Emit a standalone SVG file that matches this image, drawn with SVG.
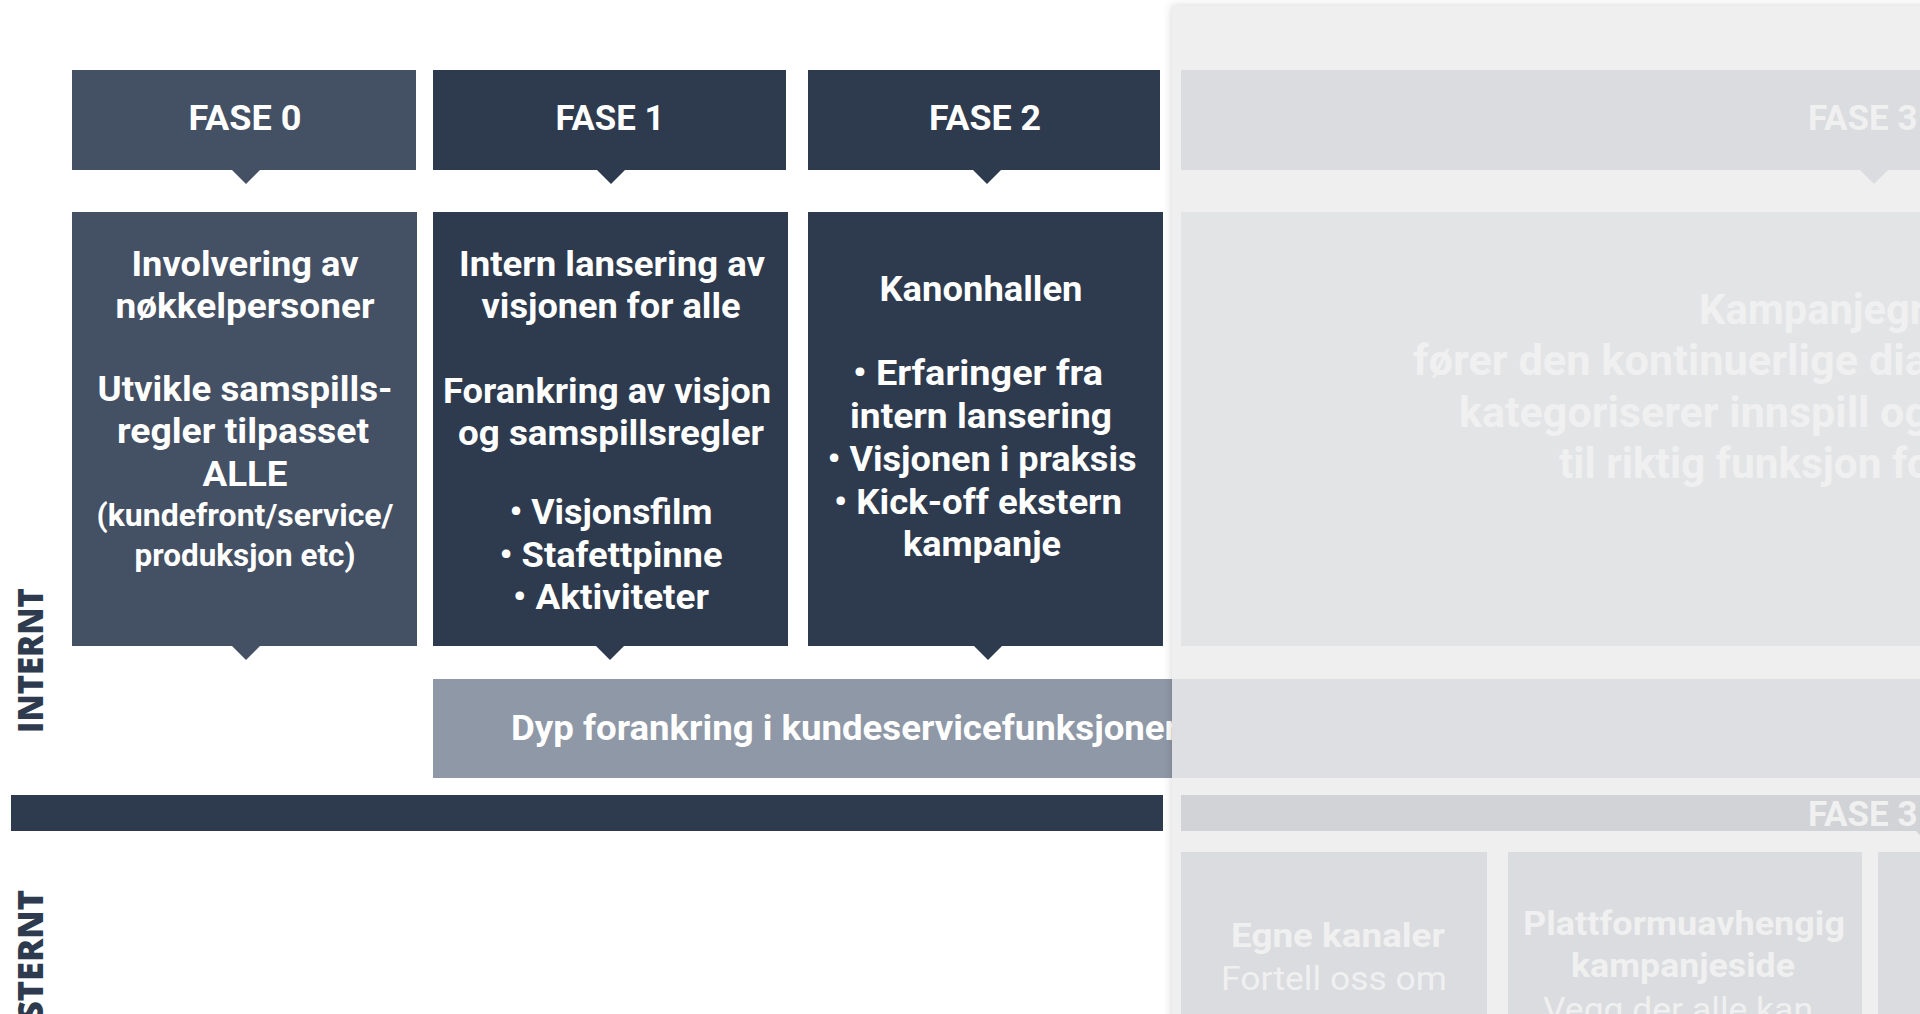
<svg xmlns="http://www.w3.org/2000/svg" width="1920" height="1014" viewBox="0 0 1920 1014">
<defs>
<style>
.t{font-family:Roboto,"Liberation Sans",sans-serif;font-weight:700;font-size:35px;fill:#ffffff;text-anchor:middle}
.s{font-size:32px}
.side{font-family:"Open Sans","Liberation Sans",Arial,sans-serif;font-weight:800;font-size:36px;fill:#2e3b4e}
.ov{font-family:Roboto,"Liberation Sans",sans-serif;font-weight:700;fill:#f0f0f1}
.reg{font-weight:400}
.f0{fill:#445063}
.f1{fill:#2e3b4e}
.dyp{fill:#8f98a6}
</style>
<filter id="sh" x="-5%" y="-5%" width="110%" height="110%">
<feDropShadow dx="0" dy="0" stdDeviation="4" flood-color="#000" flood-opacity="0.18"/>
</filter>
</defs>
<rect width="1920" height="1014" fill="#ffffff"/>

<g id="label-internt">
<text class="side" transform="translate(43,733) rotate(-90)" textLength="145" lengthAdjust="spacingAndGlyphs">INTERNT</text>
</g>
<g id="label-eksternt">
<text class="side" transform="translate(43,1021) rotate(-90)" textLength="131" lengthAdjust="spacingAndGlyphs">STERNT</text>
</g>

<g id="fase0-header">
<rect class="f0" x="72" y="70" width="344" height="100"/>
<text class="t" x="245" y="130" textLength="113" lengthAdjust="spacingAndGlyphs">FASE 0</text>
</g>
<g id="fase1-header">
<rect class="f1" x="433" y="70" width="353" height="100"/>
<text class="t" x="610" y="130" textLength="109" lengthAdjust="spacingAndGlyphs">FASE 1</text>
</g>
<g id="fase2-header">
<rect class="f1" x="808" y="70" width="352" height="100"/>
<text class="t" x="985" y="130" textLength="112" lengthAdjust="spacingAndGlyphs">FASE 2</text>
</g>

<g id="fase0-content">
<rect class="f0" x="72" y="212" width="345" height="434"/>
<text class="t" x="245" y="276" textLength="227" lengthAdjust="spacingAndGlyphs">Involvering av</text>
<text class="t" x="245" y="318" textLength="259" lengthAdjust="spacingAndGlyphs">nøkkelpersoner</text>
<text class="t" x="245" y="401" textLength="295" lengthAdjust="spacingAndGlyphs">Utvikle samspills-</text>
<text class="t" x="243" y="443" textLength="252" lengthAdjust="spacingAndGlyphs">regler tilpasset</text>
<text class="t" x="245" y="486" textLength="85" lengthAdjust="spacingAndGlyphs">ALLE</text>
<text class="t s" x="245" y="526" textLength="297" lengthAdjust="spacingAndGlyphs">(kundefront/service/</text>
<text class="t s" x="245" y="566" textLength="221" lengthAdjust="spacingAndGlyphs">produksjon etc)</text>
</g>

<g id="fase1-content">
<rect class="f1" x="433" y="212" width="355" height="434"/>
<text class="t" x="612" y="276" textLength="306" lengthAdjust="spacingAndGlyphs">Intern lansering av</text>
<text class="t" x="611" y="318" textLength="259" lengthAdjust="spacingAndGlyphs">visjonen for alle</text>
<text class="t" x="607" y="403" textLength="328" lengthAdjust="spacingAndGlyphs">Forankring av visjon</text>
<text class="t" x="611" y="445" textLength="306" lengthAdjust="spacingAndGlyphs">og samspillsregler</text>
<text class="t" x="611" y="524" textLength="203" lengthAdjust="spacingAndGlyphs">• Visjonsfilm</text>
<text class="t" x="611" y="567" textLength="223" lengthAdjust="spacingAndGlyphs">• Stafettpinne</text>
<text class="t" x="611" y="609" textLength="196" lengthAdjust="spacingAndGlyphs">• Aktiviteter</text>
</g>

<g id="fase2-content">
<rect class="f1" x="808" y="212" width="355" height="434"/>
<text class="t" x="981" y="301" textLength="203" lengthAdjust="spacingAndGlyphs">Kanonhallen</text>
<text class="t" x="978" y="385" textLength="250" lengthAdjust="spacingAndGlyphs">• Erfaringer fra</text>
<text class="t" x="981" y="428" textLength="262" lengthAdjust="spacingAndGlyphs">intern lansering</text>
<text class="t" x="982" y="471" textLength="309" lengthAdjust="spacingAndGlyphs">• Visjonen i praksis</text>
<text class="t" x="978" y="514" textLength="288" lengthAdjust="spacingAndGlyphs">• Kick-off ekstern</text>
<text class="t" x="982" y="556" textLength="158" lengthAdjust="spacingAndGlyphs">kampanje</text>
</g>

<g id="dyp-forankring">
<rect class="dyp" x="433" y="679" width="760" height="99"/>
<text class="t" x="511" y="740" style="text-anchor:start" textLength="667" lengthAdjust="spacingAndGlyphs">Dyp forankring i kundeservicefunksjoner</text>
</g>

<g id="divider-bar">
<rect class="f1" x="11" y="795" width="1152" height="36"/>
</g>

<g id="connectors">
<polygon class="f0" points="231,169 261,169 246,184"/>
<polygon class="f1" points="596,169 626,169 611,184"/>
<polygon class="f1" points="972,169 1002,169 987,184"/>
<polygon class="f0" points="231,645 261,645 246,660"/>
<polygon class="f1" points="595,645 625,645 610,660"/>
<polygon class="f1" points="973,645 1003,645 988,660"/>
</g>

<g id="overlay-panel">
<rect x="1172" y="6" width="760" height="1020" fill="#efefef" filter="url(#sh)"/>
<g id="fase3-header">
<rect x="1181" y="70" width="750" height="100" fill="#dbdcdf"/>
<polygon points="1859,169 1889,169 1874,184" fill="#dbdcdf"/>
<text class="ov" x="1808" y="130" font-size="35">FASE 3</text>
</g>
<g id="fase3-content">
<rect x="1181" y="212" width="750" height="434" fill="#e3e4e6"/>
<text class="ov" x="1699" y="324" font-size="43" textLength="226" lengthAdjust="spacingAndGlyphs">Kampanjegr</text>
<text class="ov" x="1413" y="375" font-size="43" textLength="515" lengthAdjust="spacingAndGlyphs">fører den kontinuerlige dia</text>
<text class="ov" x="1459" y="427" font-size="43" textLength="470" lengthAdjust="spacingAndGlyphs">kategoriserer innspill og</text>
<text class="ov" x="1559" y="478" font-size="43" textLength="372" lengthAdjust="spacingAndGlyphs">til riktig funksjon fo</text>
</g>
<rect x="1172" y="679" width="760" height="99" fill="#dedfe2"/>
<g id="fase3-bar">
<rect x="1181" y="795" width="750" height="36" fill="#d2d3d7"/>
<polygon points="1915,830 1945,830 1930,846" fill="#d2d3d7"/>
<text class="ov" x="1808" y="826" font-size="35">FASE 3</text>
</g>
<g id="egne-kanaler">
<rect x="1181" y="852" width="306" height="200" fill="#dbdcdf"/>
<text class="ov" x="1338" y="947" font-size="34" text-anchor="middle" textLength="214" lengthAdjust="spacingAndGlyphs">Egne kanaler</text>
<text class="ov reg" x="1334" y="990" font-size="34" text-anchor="middle" textLength="226" lengthAdjust="spacingAndGlyphs">Fortell oss om</text>
</g>
<g id="kampanjeside">
<rect x="1508" y="852" width="354" height="200" fill="#dbdcdf"/>
<text class="ov" x="1684" y="935" font-size="34" text-anchor="middle" textLength="322" lengthAdjust="spacingAndGlyphs">Plattformuavhengig</text>
<text class="ov" x="1683" y="977" font-size="34" text-anchor="middle" textLength="224" lengthAdjust="spacingAndGlyphs">kampanjeside</text>
<text class="ov reg" x="1678" y="1021" font-size="34" text-anchor="middle" textLength="270" lengthAdjust="spacingAndGlyphs">Vegg der alle kan</text>
</g>
<rect x="1878" y="852" width="60" height="200" fill="#dbdcdf"/>
</g>
</svg>
